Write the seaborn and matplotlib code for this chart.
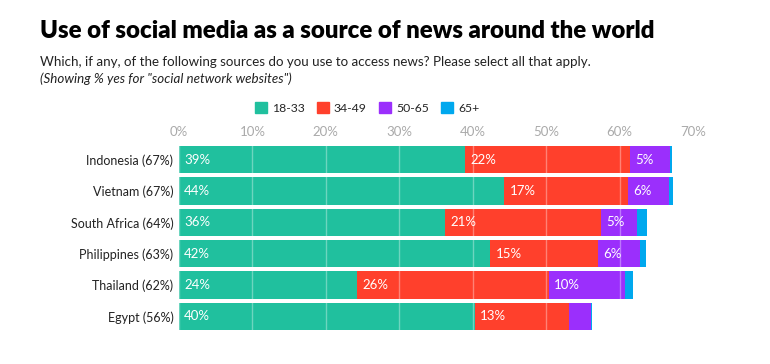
import numpy as np
import pandas as pd
import matplotlib
matplotlib.use("Agg")
import matplotlib.pyplot as plt
import matplotlib.patches as mpatches
import seaborn as sns

# data (% of respondents by age group)
countries = ["Indonesia (67%)", "Vietnam (67%)", "South Africa (64%)",
             "Philippines (63%)", "Thailand (62%)", "Egypt (56%)"]
age_groups = ["18-33", "34-49", "50-65", "65+"]
g18_33 = [39.0, 44.3, 36.2, 42.4, 24.3, 40.3]
g34_49 = [22.4, 16.8, 21.3, 14.7, 26.1, 12.8]
g50_65 = [5.4, 5.6, 4.9, 5.7, 10.4, 3.0]
g65_plus = [0.4, 0.6, 1.3, 0.8, 1.0, 0.15]
ticks = [0, 10, 20, 30, 40, 50, 60, 70]

colors = ["#20c09e", "#ff402c", "#9b2ffc", "#00a8ee"]

df = pd.DataFrame({"country": countries, "18-33": g18_33, "34-49": g34_49,
                   "50-65": g50_65, "65+": g65_plus})
cum = df[age_groups].cumsum(axis=1)

sns.set_style("white")
plt.rcParams["font.family"] = ["Lato", "DejaVu Sans"]

fig = plt.figure(figsize=(7.7, 3.64), dpi=100)
ax = fig.add_axes([179 / 770, 32 / 364, (693 - 179) / 770, (332 - 144) / 364])

# stacked bars: draw cumulative totals from the back to the front
for grp, col in zip(reversed(age_groups), reversed(colors)):
    sns.barplot(x=cum[grp], y=df["country"], color=col, orient="h",
                width=0.87, ax=ax, saturation=1, linewidth=0)

# segment labels
for i in range(len(countries)):
    start = 0
    for grp in age_groups[:3]:
        v = df.loc[i, grp]
        if v >= 4:
            ax.text(start + 0.7, i, f"{v:.0f}%", color="white", va="center",
                    ha="left", fontsize=9.5)
        start += v

ax.set_xlim(0, 70)
ax.set_ylim(5.5, -0.5)
ax.set_xticks(ticks)
ax.set_xticklabels([f"{t}%" for t in ticks], color="#aaaaaa", fontsize=9.5)
ax.xaxis.tick_top()
ax.tick_params(axis="x", length=0, pad=4)
ax.tick_params(axis="y", length=0, pad=4, labelsize=9, labelcolor="#222222")
ax.set_xlabel("")
ax.set_ylabel("")
ax.grid(axis="x", color="white", alpha=0.35, linewidth=1)
ax.set_axisbelow(False)
sns.despine(ax=ax, left=True, bottom=True)

fig.text(40 / 770, 1 - 31 / 364, "Use of social media as a source of news around the world",
         fontsize=17.3, fontweight="heavy", va="center", ha="left", color="black")
fig.text(40 / 770, 1 - 62 / 364,
         "Which, if any, of the following sources do you use to access news? Please select all that apply.",
         fontsize=9.6, va="center", ha="left", color="#222222")
fig.text(40 / 770, 1 - 79 / 364, "(Showing % yes for \"social network websites\")",
         fontsize=9.6, style="italic", va="center", ha="left", color="#222222")

handles = [mpatches.Patch(facecolor=c, edgecolor=c, label=g) for g, c in zip(age_groups, colors)]
fig.legend(handles=handles, loc="center", bbox_to_anchor=(367 / 770, 1 - 108 / 364), ncol=4,
           frameon=False, fontsize=8.8, handlelength=1.0, handleheight=1.0,
           handletextpad=0.4, columnspacing=1.0)

fig.savefig("out.png", dpi=100)
